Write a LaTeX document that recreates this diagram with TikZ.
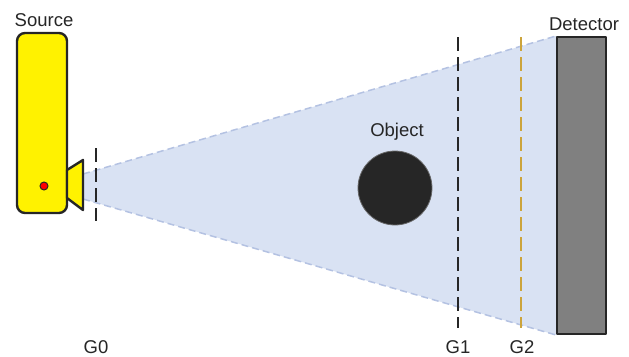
\documentclass[tikz,border=0pt]{standalone}
\usepackage{fontspec}
\setmainfont{Liberation Sans}
\definecolor{beamblue}{RGB}{217,226,243}
\definecolor{beamedge}{RGB}{180,194,226}
\definecolor{goldline}{RGB}{204,164,60}
\tikzset{part/.style={draw=black!85,line width=2.4pt,line join=round},
 grating/.style={draw=black!85,line width=2.2pt,dash pattern=on 14pt off 6pt},
 beamline/.style={draw=beamedge,line width=1.5pt,dash pattern=on 7pt off 4pt},
 lbl/.style={inner sep=0pt,font=\fontsize{18.5}{22}\selectfont,text=black!85}}
\begin{document}
\begin{tikzpicture}[x=1pt,y=-1pt]
\useasboundingbox (0,0) rectangle (629,356);
\coordinate (beamtop) at (83,174);
\coordinate (beambot) at (83,199);
\coordinate (dettop) at (556,36);
\coordinate (detbot) at (556,335);
\fill[beamblue] (beamtop) -- (dettop) -- (detbot) -- (beambot) -- cycle;
\draw[beamline] (beamtop) -- (dettop);
\draw[beamline] (beambot) -- (detbot);
\draw[part,fill=yellow,rounded corners=8pt] (17,33) rectangle (67,213);
\draw[part,fill=yellow] (67,170) -- (83,160) -- (83,210) -- (67,198) -- cycle;
\draw[draw=black!85,line width=1pt,fill=red] (44,186) circle (4);
\draw[part,fill=black!50] (557,37) rectangle (606,334);
\node[circle,draw=black!60,line width=.8pt,fill=black!85,minimum size=74pt,inner sep=0pt] (object) at (395,188) {};
\coordinate (g0a) at (96,148);
\coordinate (g0b) at (96,221);
\coordinate (g1a) at (458,37);
\coordinate (g1b) at (458,328);
\coordinate (g2a) at (521,37);
\coordinate (g2b) at (521,328);
\draw[grating] (g0a) -- (g0b);
\draw[grating] (g1a) -- (g1b);
\draw[grating,draw=goldline] (g2a) -- (g2b);
\node[lbl] (source) at (44,20) {Source};
\node[lbl] (detector) at (584,24) {Detector};
\node[lbl] (objlabel) at (397,132) {Object};
\node[lbl] (g0) at (96,347) {G0};
\node[lbl] (g1) at (458,347) {G1};
\node[lbl] (g2) at (522,347) {G2};
\end{tikzpicture}
\end{document}
